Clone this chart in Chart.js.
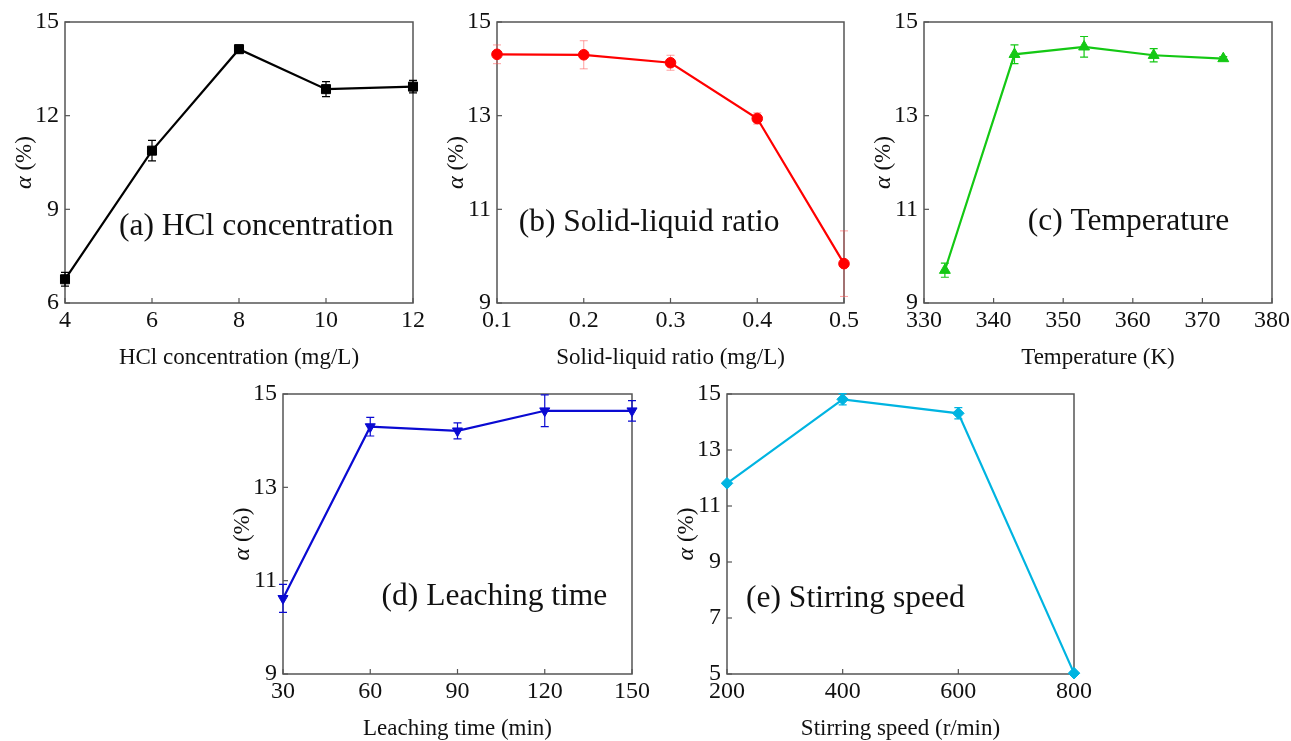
<!DOCTYPE html>
<html><head><meta charset="utf-8">
<script src="https://cdn.jsdelivr.net/npm/chart.js@4/dist/chart.umd.min.js"></script>
<style>
html,body{margin:0;padding:0;background:#fff;overflow:hidden;width:1291px;height:741px;position:relative;}
canvas{position:absolute;}
</style></head><body>
<canvas id="ca"></canvas><canvas id="cb"></canvas><canvas id="cc"></canvas><canvas id="cd"></canvas><canvas id="ce"></canvas>
<script>
// ---- data ----
const hclConc = [4, 6, 8, 10, 12];
const hclAlpha = [6.76, 10.88, 14.13, 12.85, 12.93];
const hclErr = [0.22, 0.33, 0.12, 0.24, 0.2];

const slRatio = [0.1, 0.2, 0.3, 0.4, 0.5];
const slAlpha = [14.31, 14.30, 14.13, 12.94, 9.84];
const slErr = [0.2, 0.3, 0.16, 0.12, 0.7];

const temperature = [333, 343, 353, 363, 373];
const tempAlpha = [9.70, 14.31, 14.47, 14.29, 14.22];
const tempErr = [0.15, 0.2, 0.22, 0.14, 0.04];

const leachTime = [30, 60, 90, 120, 150];
const timeAlpha = [10.62, 14.30, 14.21, 14.64, 14.64];
const timeErr = [0.3, 0.2, 0.17, 0.34, 0.22];

const stirSpeed = [200, 400, 600, 800];
const stirAlpha = [11.81, 14.81, 14.31, 5.03];
const stirErr = [0.04, 0.2, 0.2, 0.04];

// ---- tick labels ----
const xTicksA = [4, 6, 8, 10, 12];      const yTicksA = [6, 9, 12, 15];
const xTicksB = [0.1, 0.2, 0.3, 0.4, 0.5]; const yTicksB = [9, 11, 13, 15];
const xTicksC = [330, 340, 350, 360, 370, 380]; const yTicksC = [9, 11, 13, 15];
const xTicksD = [30, 60, 90, 120, 150]; const yTicksD = [9, 11, 13, 15];
const xTicksE = [200, 400, 600, 800];   const yTicksE = [5, 7, 9, 11, 13, 15];

// ---- texts ----
const xTitles = ['HCl concentration (mg/L)', 'Solid-liquid ratio (mg/L)', 'Temperature (K)', 'Leaching time (min)', 'Stirring speed (r/min)'];
const labels = ['(a) HCl concentration', '(b) Solid-liquid ratio', '(c) Temperature', '(d) Leaching time', '(e) Stirring speed'];
const labelAt = [[5.24, 8.18], [0.125, 10.54], [344.9, 10.56], [63.9, 10.48], [232.9, 7.40]];

const SERIF = '"Liberation Serif", "Times New Roman", serif';

const panels = [
  {id:'ca', L:65,  T:22,  W:348, H:281, x:hclConc, y:hclAlpha, err:hclErr, xt:xTicksA, yt:yTicksA,
   color:'#000000', errColor:'#000000', errW:1.2, style:'rect', r:6.4, rot:0, dec:0},
  {id:'cb', L:497, T:22,  W:347, H:281, x:slRatio, y:slAlpha, err:slErr, xt:xTicksB, yt:yTicksB,
   color:'#ff0000', errColor:'rgba(255,80,80,0.55)', errW:1, style:'circle', r:5.3, rot:0, dec:1},
  {id:'cc', L:924, T:22,  W:348, H:281, x:temperature, y:tempAlpha, err:tempErr, xt:xTicksC, yt:yTicksC,
   color:'#14c814', errColor:'#14c814', errW:1.2, style:'triangle', r:6.3, rot:0, dec:0},
  {id:'cd', L:283, T:394, W:349, H:280, x:leachTime, y:timeAlpha, err:timeErr, xt:xTicksD, yt:yTicksD,
   color:'#0a0ad2', errColor:'#0a0ad2', errW:1.2, style:'triangle', r:5.8, rot:180, dec:0},
  {id:'ce', L:727, T:394, W:347, H:280, x:stirSpeed, y:stirAlpha, err:stirErr, xt:xTicksE, yt:yTicksE,
   color:'#00b4e1', errColor:'#00b4e1', errW:1.2, style:'rectRot', r:5.8, rot:0, dec:0}
];

const YW = 65, TOP = 22, RP = 30, XH = 66;

function makePlugin(p, idx) {
  return {
    id: 'deco' + idx,
    beforeDatasetsDraw(chart) {
      const {ctx, chartArea: a, scales: {x, y}} = chart;
      ctx.save();
      ctx.strokeStyle = '#555';
      ctx.lineWidth = 1.5;
      ctx.strokeRect(a.left, a.top, a.right - a.left, a.bottom - a.top);
      ctx.lineWidth = 1.2;
      x.ticks.forEach(t => {
        const px = x.getPixelForValue(t.value);
        ctx.beginPath(); ctx.moveTo(px, a.bottom); ctx.lineTo(px, a.bottom - 5); ctx.stroke();
      });
      y.ticks.forEach(t => {
        const py = y.getPixelForValue(t.value);
        ctx.beginPath(); ctx.moveTo(a.left, py); ctx.lineTo(a.left + 5, py); ctx.stroke();
      });
      // error bars
      ctx.strokeStyle = p.errColor;
      ctx.lineWidth = p.errW;
      p.x.forEach((xv, i) => {
        const px = x.getPixelForValue(xv);
        const y1 = y.getPixelForValue(p.y[i] - p.err[i]);
        const y2 = y.getPixelForValue(p.y[i] + p.err[i]);
        ctx.beginPath();
        ctx.moveTo(px, y1); ctx.lineTo(px, y2);
        ctx.moveTo(px - 4, y1); ctx.lineTo(px + 4, y1);
        ctx.moveTo(px - 4, y2); ctx.lineTo(px + 4, y2);
        ctx.stroke();
      });
      ctx.restore();
    },
    afterDraw(chart) {
      const {ctx, chartArea: a, scales: {x, y}} = chart;
      ctx.save();
      // panel label
      ctx.fillStyle = '#111';
      ctx.font = '31.5px ' + SERIF;
      ctx.textAlign = 'left';
      ctx.textBaseline = 'alphabetic';
      ctx.fillText(labels[idx], x.getPixelForValue(labelAt[idx][0]), y.getPixelForValue(labelAt[idx][1]));
      // y title: italic alpha + (%)
      const cx = a.left - 40, cy = (a.top + a.bottom) / 2;
      ctx.translate(cx, cy);
      ctx.rotate(-Math.PI / 2);
      ctx.textBaseline = 'middle';
      const f1 = 'italic 24px ' + SERIF, f2 = '23px ' + SERIF;
      ctx.font = f1; const w1 = ctx.measureText('α').width;
      ctx.font = f2; const w2 = ctx.measureText(' (%)').width;
      let sx = -(w1 + w2) / 2;
      ctx.font = f1; ctx.fillText('α', sx, 0);
      ctx.font = f2; ctx.fillText(' (%)', sx + w1, 0);
      ctx.restore();
    }
  };
}

panels.forEach((p, idx) => {
  const cv = document.getElementById(p.id);
  const w = YW + p.W + RP, h = TOP + p.H + XH;
  cv.width = w; cv.height = h;
  cv.style.width = w + 'px'; cv.style.height = h + 'px';
  cv.style.left = (p.L - YW) + 'px'; cv.style.top = (p.T - TOP) + 'px';
  new Chart(cv, {
    type: 'line',
    data: {
      datasets: [{
        data: p.x.map((xv, i) => ({x: xv, y: p.y[i]})),
        borderColor: p.color, backgroundColor: p.color,
        borderWidth: 2.2, tension: 0,
        pointStyle: p.style, pointRadius: p.r, pointRotation: p.rot,
        pointBackgroundColor: p.color, pointBorderColor: p.color, pointBorderWidth: 1,
        clip: false
      }]
    },
    options: {
      responsive: false, animation: false, devicePixelRatio: 1,
      layout: {padding: {top: TOP, right: RP, left: 0, bottom: 0}},
      plugins: {legend: {display: false}, tooltip: {enabled: false}},
      scales: {
        x: {
          type: 'linear', min: p.xt[0], max: p.xt[p.xt.length - 1],
          afterBuildTicks: s => { s.ticks = p.xt.map(v => ({value: v})); },
          afterFit: s => { s.height = XH; },
          grid: {display: false, drawTicks: false}, border: {display: false},
          ticks: {font: {family: SERIF, size: 24}, color: '#111', padding: 3, maxRotation: 0, autoSkip: false,
                  callback: v => Number(v).toFixed(p.dec)},
          title: {display: true, text: xTitles[idx], color: '#111', font: {family: SERIF, size: 23, lineHeight: 1}, padding: 0}
        },
        y: {
          type: 'linear', min: p.yt[0], max: p.yt[p.yt.length - 1],
          afterBuildTicks: s => { s.ticks = p.yt.map(v => ({value: v})); },
          afterFit: s => { s.width = YW; },
          grid: {display: false, drawTicks: false}, border: {display: false},
          ticks: {font: {family: SERIF, size: 24}, color: '#111', padding: 6, autoSkip: false,
                  callback: v => String(v)},
          title: {display: false}
        }
      }
    },
    plugins: [makePlugin(p, idx)]
  });
});
</script>
</body></html>
